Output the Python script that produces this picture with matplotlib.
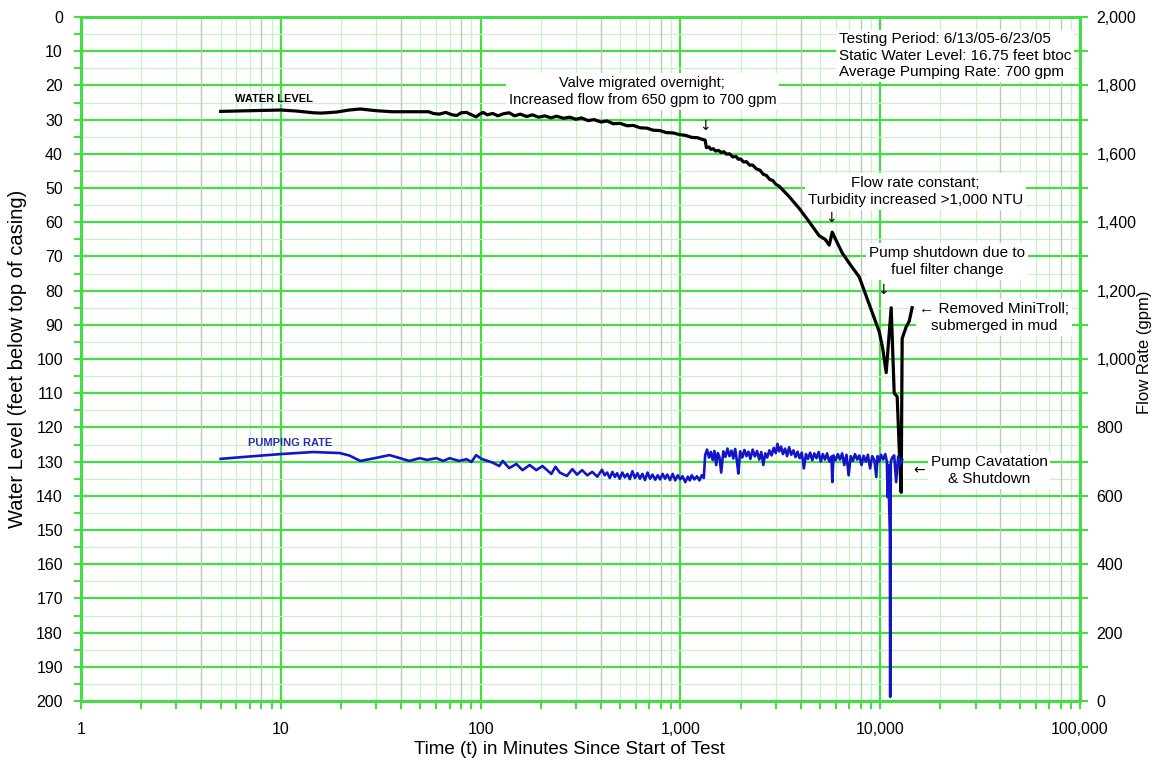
import matplotlib
matplotlib.use('Agg')
import matplotlib.pyplot as plt
from matplotlib.ticker import FixedLocator, MultipleLocator, LogLocator, NullFormatter, FuncFormatter

plt.rcParams['font.family'] = ['Liberation Sans', 'DejaVu Sans']

# water level (feet below top of casing) vs minutes since start
wl_time = [5, 7, 10, 12, 14.5, 16, 19, 22, 25, 30,
           36, 45, 55, 58, 62, 67, 72, 76, 80, 85,
           90, 95, 99, 103, 108, 115, 122, 130, 139, 148,
           158, 170, 182, 195, 210, 225, 240, 260, 280, 300,
           320, 345, 370, 400, 430, 460, 500, 540, 580, 630,
           680, 730, 790, 850, 920, 990, 1060, 1140, 1220, 1288,
           1330, 1349, 1390, 1420, 1460, 1500, 1550, 1600, 1650, 1700,
           1760, 1830, 1900, 1950, 2000, 2070, 2140, 2220, 2300, 2400,
           2500, 2600, 2690, 2800, 2900, 3000, 3126, 3500, 3936, 4400,
           4955, 5300, 5560, 5754, 5900, 6457, 7100, 7852, 8810, 9886,
           10300, 10715, 11350, 11750, 12160, 12450, 12735, 12880, 13490, 13960,
           14450]
wl_depth = [27.6, 27.4, 27.2, 27.5, 28.0, 28.1, 27.8, 27.2, 26.9, 27.4,
            27.7, 27.7, 27.7, 28.2, 28.4, 27.9, 28.6, 28.8, 28.0, 27.9,
            28.6, 29.2, 28.4, 27.9, 28.6, 28.2, 28.9, 28.3, 28.0, 28.9,
            28.4, 29.1, 28.6, 29.3, 28.9, 29.5, 29.0, 29.6, 29.3, 29.9,
            29.5, 30.3, 30.0, 30.7, 30.4, 31.2, 31.1, 31.8, 31.7, 32.4,
            32.5, 33.1, 33.2, 33.8, 33.9, 34.4, 34.6, 35.2, 35.3, 35.8,
            36.0, 38.2, 38.0, 38.7, 38.5, 39.2, 39.0, 39.6, 39.4, 40.1,
            40.0, 40.9, 40.8, 41.6, 41.5, 42.4, 42.3, 43.3, 43.3, 44.4,
            44.8, 46.0, 46.3, 47.5, 47.8, 48.9, 49.5, 52.5, 56.0, 59.8,
            64.0, 65.0, 66.7, 62.9, 64.3, 69.0, 72.5, 76.0, 84.0, 92.0,
            97.0, 104.0, 85.0, 110.0, 111.0, 126.0, 139.0, 94.0, 90.6, 89.0,
            85.0]

# pumping rate (gpm)
pump_time = [5, 7, 10, 14.5, 19.7, 22, 25, 29.5, 35, 44,
             49.5, 54, 60, 65, 70, 78, 85, 90, 95, 101,
             115, 124, 129, 139, 151, 162, 176, 190, 204, 226,
             237, 249, 270, 288, 304, 322, 342, 362, 384, 405,
             418, 430, 443, 457, 470, 482, 497, 512, 527, 543,
             558, 575, 592, 610, 627, 645, 665, 685, 705, 725,
             748, 770, 792, 815, 838, 860, 887, 915, 942, 970,
             998, 1025, 1058, 1090, 1115, 1140, 1175, 1210, 1245, 1280,
             1310, 1330, 1360, 1390, 1420, 1450, 1480, 1510, 1540, 1570,
             1600, 1640, 1680, 1720, 1760, 1800, 1840, 1880, 1920, 1950,
             1990, 2040, 2090, 2140, 2190, 2240, 2300, 2360, 2420, 2480,
             2540, 2600, 2660, 2720, 2790, 2860, 2930, 3000, 3060, 3120,
             3190, 3260, 3340, 3420, 3500, 3590, 3680, 3770, 3860, 3950,
             4050, 4150, 4250, 4350, 4460, 4570, 4680, 4800, 4920, 5040,
             5160, 5290, 5420, 5560, 5700, 5760, 5840, 5990, 6140, 6290,
             6450, 6610, 6780, 6950, 7120, 7300, 7480, 7670, 7860, 8060,
             8260, 8470, 8680, 8900, 9120, 9350, 9560, 9700, 9900, 10100,
             10350, 10600, 10800, 10900, 11000, 11100, 11180, 11220, 11300, 11480,
             11750, 12020, 12300, 12590, 12880]
pump_rate = [708, 715, 722, 728, 725, 718, 702, 710, 719, 702,
             710, 705, 710, 702, 710, 702, 707, 699, 719, 708,
             697, 687, 702, 681, 693, 675, 690, 675, 687, 664,
             685, 668, 658, 678, 662, 675, 660, 670, 656, 676,
             660, 668, 652, 670, 655, 666, 650, 668, 654, 664,
             649, 672, 652, 666, 650, 664, 646, 668, 650, 662,
             647, 660, 648, 664, 650, 662, 646, 664, 645, 660,
             648, 657, 640, 656, 645, 660, 648, 657, 645, 660,
             652, 719, 735, 712, 728, 705, 731, 690, 725, 712,
             668, 730, 714, 738, 716, 732, 709, 737, 700, 665,
             730, 712, 734, 716, 729, 708, 735, 715, 731, 706,
             728, 690, 724, 712, 733, 718, 740, 725, 752, 730,
             744, 722, 738, 716, 742, 720, 733, 713, 729, 710,
             726, 680, 722, 708, 726, 704, 724, 710, 728, 700,
             722, 706, 724, 700, 715, 640, 718, 704, 722, 706,
             724, 690, 720, 660, 716, 702, 722, 706, 718, 690,
             717, 700, 720, 680, 716, 705, 655, 716, 700, 720,
             706, 722, 700, 596, 690, 560, 490, 12, 700, 712,
             718, 640, 715, 690, 705]

xtick_vals = [1, 10, 100, 1000, 10000, 100000]
xtick_labels = ['1', '10', '100', '1,000', '10,000', '100,000']

GREEN = '#44dd44'
LIGHT = '#c6f2c6'
GRAY = '#b8cab8'

fig = plt.figure(figsize=(11.52, 7.61), dpi=100)
ax = fig.add_axes([81 / 1152, 1 - 701 / 761, 999 / 1152, 684 / 761])
ax.set_xscale('log')
ax.set_xlim(1, 100000)
ax.set_ylim(200, 0)

ax.xaxis.set_major_locator(FixedLocator(xtick_vals))
ax.xaxis.set_minor_locator(LogLocator(base=10, subs=range(2, 10), numticks=20))
ax.xaxis.set_minor_formatter(NullFormatter())
ax.set_xticklabels(xtick_labels)
ax.yaxis.set_major_locator(MultipleLocator(10))
ax.yaxis.set_minor_locator(MultipleLocator(5))

ax.set_axisbelow(True)
ax.grid(which='major', color=GREEN, lw=1.6)
ax.grid(which='minor', color=LIGHT, lw=0.9)
for dec in xtick_vals[:-1]:
    for m in (4, 8):
        ax.axvline(m * dec, color=GRAY, lw=0.9, zorder=0.6)

ax.tick_params(which='both', direction='out', length=5, width=1.5, color=GREEN, labelsize=11.5)
ax.tick_params(axis='x', which='both', length=6, pad=9)
ax.tick_params(axis='y', pad=8)

ax2 = ax.twinx()
ax2.set_ylim(0, 2000)
ax2.yaxis.set_major_locator(MultipleLocator(200))
ax2.yaxis.set_minor_locator(MultipleLocator(100))
ax2.yaxis.set_major_formatter(FuncFormatter(lambda v, p: f'{v:,.0f}'))
ax2.tick_params(which='both', direction='out', length=6, width=1.5, color=GREEN, labelsize=11.5, pad=6)

for a in (ax, ax2):
    for s in a.spines.values():
        s.set_color(GREEN)
        s.set_linewidth(2)

ax.plot(wl_time, wl_depth, color='black', lw=2.3, zorder=4)
ax2.plot(pump_time, pump_rate, color='#1515c8', lw=1.9, zorder=4)

box = dict(facecolor='white', edgecolor='none', pad=2)
arrow_font = ['DejaVu Sans']

ax.text(9.23, 24.0, 'WATER LEVEL', fontsize=8, fontweight='bold', ha='center', va='center')
ax.text(11.1, 124.6, 'PUMPING RATE', fontsize=8, fontweight='bold', color='#2b2bb0',
        ha='center', va='center')

ax.text(645, 21.8, 'Valve migrated overnight;\nIncreased flow from 650 gpm to 700 gpm',
        fontsize=10.5, ha='center', va='center', linespacing=1.3, bbox=box, zorder=3)
ax.text(1334, 31.9, '↓', fontsize=10, family=arrow_font, ha='center', va='center', zorder=3)

ax.text(6237, 11.3, 'Testing Period: 6/13/05-6/23/05\nStatic Water Level: 16.75 feet btoc\n'
        'Average Pumping Rate: 700 gpm',
        fontsize=11, ha='left', va='center', linespacing=1.2, bbox=box, zorder=3)

ax.text(14962, 51.0, 'Flow rate constant;\nTurbidity increased >1,000 NTU',
        fontsize=11, ha='center', va='center', linespacing=1.25, bbox=box, zorder=3)
ax.text(5690, 58.8, '↓', fontsize=10, family=arrow_font, ha='center', va='center', zorder=3)

ax.text(21630, 71.5, 'Pump shutdown due to\nfuel filter change',
        fontsize=11, ha='center', va='center', linespacing=1.25, bbox=box, zorder=3)
ax.text(10350, 79.8, '↓', fontsize=10, family=arrow_font, ha='center', va='center', zorder=3)

ax.text(37150, 87.9, '← Removed MiniTroll;\nsubmerged in mud',
        fontsize=11, ha='center', va='center', linespacing=1.25, bbox=box, zorder=3)

ax.text(35080, 132.7, 'Pump Cavatation\n& Shutdown',
        fontsize=11, ha='center', va='center', linespacing=1.25, bbox=box, zorder=3)
ax.text(15670, 132.7, '←', fontsize=10, family=arrow_font, ha='center', va='center', zorder=3)

fig.text(18 / 1152, 1 - 359 / 761, 'Water Level (feet below top of casing)', fontsize=14.5,
         rotation=90, ha='center', va='center')
fig.text(1144 / 1152, 1 - 352 / 761, 'Flow Rate (gpm)', fontsize=12,
         rotation=90, ha='center', va='center')
fig.text(569 / 1152, 1 - 750 / 761, 'Time (t) in Minutes Since Start of Test', fontsize=13.5,
         ha='center', va='center')

fig.savefig('out.png', dpi=100, facecolor='white')
